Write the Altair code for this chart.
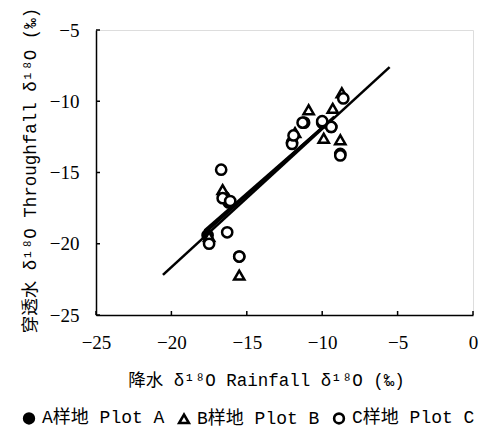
import altair as alt
import pandas as pd

# Plot A (filled circles)
a_x = [-17.6, -16.5, -16.2, -15.5, -12.0, -11.2, -10.0, -9.4, -8.8]
a_y = [-19.4, -16.7, -17.1, -20.9, -12.9, -11.5, -11.5, -11.8, -13.7]
# Plot B (open triangles)
b_x = [-17.5, -16.6, -15.5, -11.8, -10.9, -9.3, -9.9, -8.8, -8.7]
b_y = [-19.5, -16.2, -22.2, -12.2, -10.6, -10.5, -12.6, -12.7, -9.4]
# Plot C (open circles)
c_x = [-16.7, -16.6, -16.1, -16.3, -17.5, -15.5, -12.0, -11.9, -11.3, -10.0, -9.4, -8.6, -8.8]
c_y = [-14.8, -16.8, -17.0, -19.2, -20.0, -20.9, -13.0, -12.4, -11.5, -11.4, -11.8, -9.8, -13.8]

series_names = ["A样地 Plot A", "B样地 Plot B", "C样地 Plot C"]

x_ticks = [-25, -20, -15, -10, -5, 0]
y_ticks = [-25, -20, -15, -10, -5]

# regression lines: slope, intercept, x-range
line_slope = [0.97, 0.925, 0.95]
line_icpt = [-2.24, -2.61, -2.35]
line_x0 = [-20.56, -17.8, -17.6]
line_x1 = [-5.53, -9.6, -9.2]

W, H = 377, 285

rows = []
for name, xs_, ys_ in zip(series_names, [a_x, b_x, c_x], [a_y, b_y, c_y]):
    for x, y in zip(xs_, ys_):
        rows.append({"x": x, "y": y, "s": name})
pts = pd.DataFrame(rows)

lrows = []
for i, (m, b, x0, x1) in enumerate(zip(line_slope, line_icpt, line_x0, line_x1)):
    for x in (x0, x1):
        lrows.append({"x": x, "y": m * x + b, "id": i})
lines = pd.DataFrame(lrows)

latin = "Liberation Mono, Noto Sans CJK SC"

xs = alt.Scale(domain=[-25, 0], nice=False)
ys = alt.Scale(domain=[-25, -5], nice=False)

x_axis = alt.Axis(values=x_ticks, grid=False, ticks=False, labelFlush=False,
                  domainColor="black", domainWidth=1.5,
                  labelFont="Liberation Serif", labelFontSize=19, labelColor="black",
                  labelPadding=18, title="降水 δ¹⁸O Rainfall δ¹⁸O (‰)",
                  titleFont=latin, titleFontSize=17.5, titleFontWeight="normal",
                  titleColor="black", titlePadding=19, titleX=170, titleAlign="center")
y_axis = alt.Axis(values=y_ticks, grid=False, ticks=False, labelFlush=False,
                  domainColor="black", domainWidth=1.5,
                  labelFont="Liberation Serif", labelFontSize=19, labelColor="black",
                  labelPadding=17, title="穿透水 δ¹⁸O Throughfall δ¹⁸O (‰)",
                  titleFont=latin, titleFontSize=17.5, titleFontWeight="normal",
                  titleColor="black", titlePadding=10, titleY=140, titleAlign="center")

line_layer = alt.Chart(lines).mark_line(color="black", strokeWidth=2.6).encode(
    x=alt.X("x:Q", scale=xs, axis=x_axis),
    y=alt.Y("y:Q", scale=ys, axis=y_axis),
    detail="id:N",
)

xt = alt.Chart(pd.DataFrame({"v": x_ticks})).mark_rule(color="black", strokeWidth=1.5).encode(
    x=alt.X("v:Q", scale=xs), y=alt.value(H), y2=alt.value(H - 4))
yt = alt.Chart(pd.DataFrame({"v": y_ticks})).mark_rule(color="black", strokeWidth=1.5).encode(
    y=alt.Y("v:Q", scale=ys), x=alt.value(0), x2=alt.value(4))

pt_layer = alt.Chart(pts).mark_point(size=105, strokeWidth=2.5, opacity=1).encode(
    x=alt.X("x:Q", scale=xs),
    y=alt.Y("y:Q", scale=ys),
    shape=alt.Shape("s:N", scale=alt.Scale(domain=series_names,
                                           range=["circle", "triangle-up", "circle"]),
                    legend=alt.Legend(orient="none", direction="horizontal",
                                      legendX=-76, legendY=379, title=None,
                                      labelFont=latin, labelFontSize=18,
                                      labelColor="black", symbolSize=95,
                                      symbolStrokeWidth=2.6, columnPadding=8,
                                      labelOffset=4, labelLimit=300)),
    fill=alt.Fill("s:N", scale=alt.Scale(domain=series_names,
                                         range=["black", "white", "white"]),
                  legend=None),
    stroke=alt.value("black"),
    order=alt.Order("s:N"),
)

chart = alt.layer(line_layer, xt, yt, pt_layer).properties(
    width=W, height=H,
    autosize=alt.AutoSizeParams(type="none"),
    padding={"left": 88, "top": 22, "right": 6, "bottom": 118},
).configure_view(stroke=None).configure(background="white")

chart.save("out.html", embed_options={"renderer": "svg", "actions": False})
